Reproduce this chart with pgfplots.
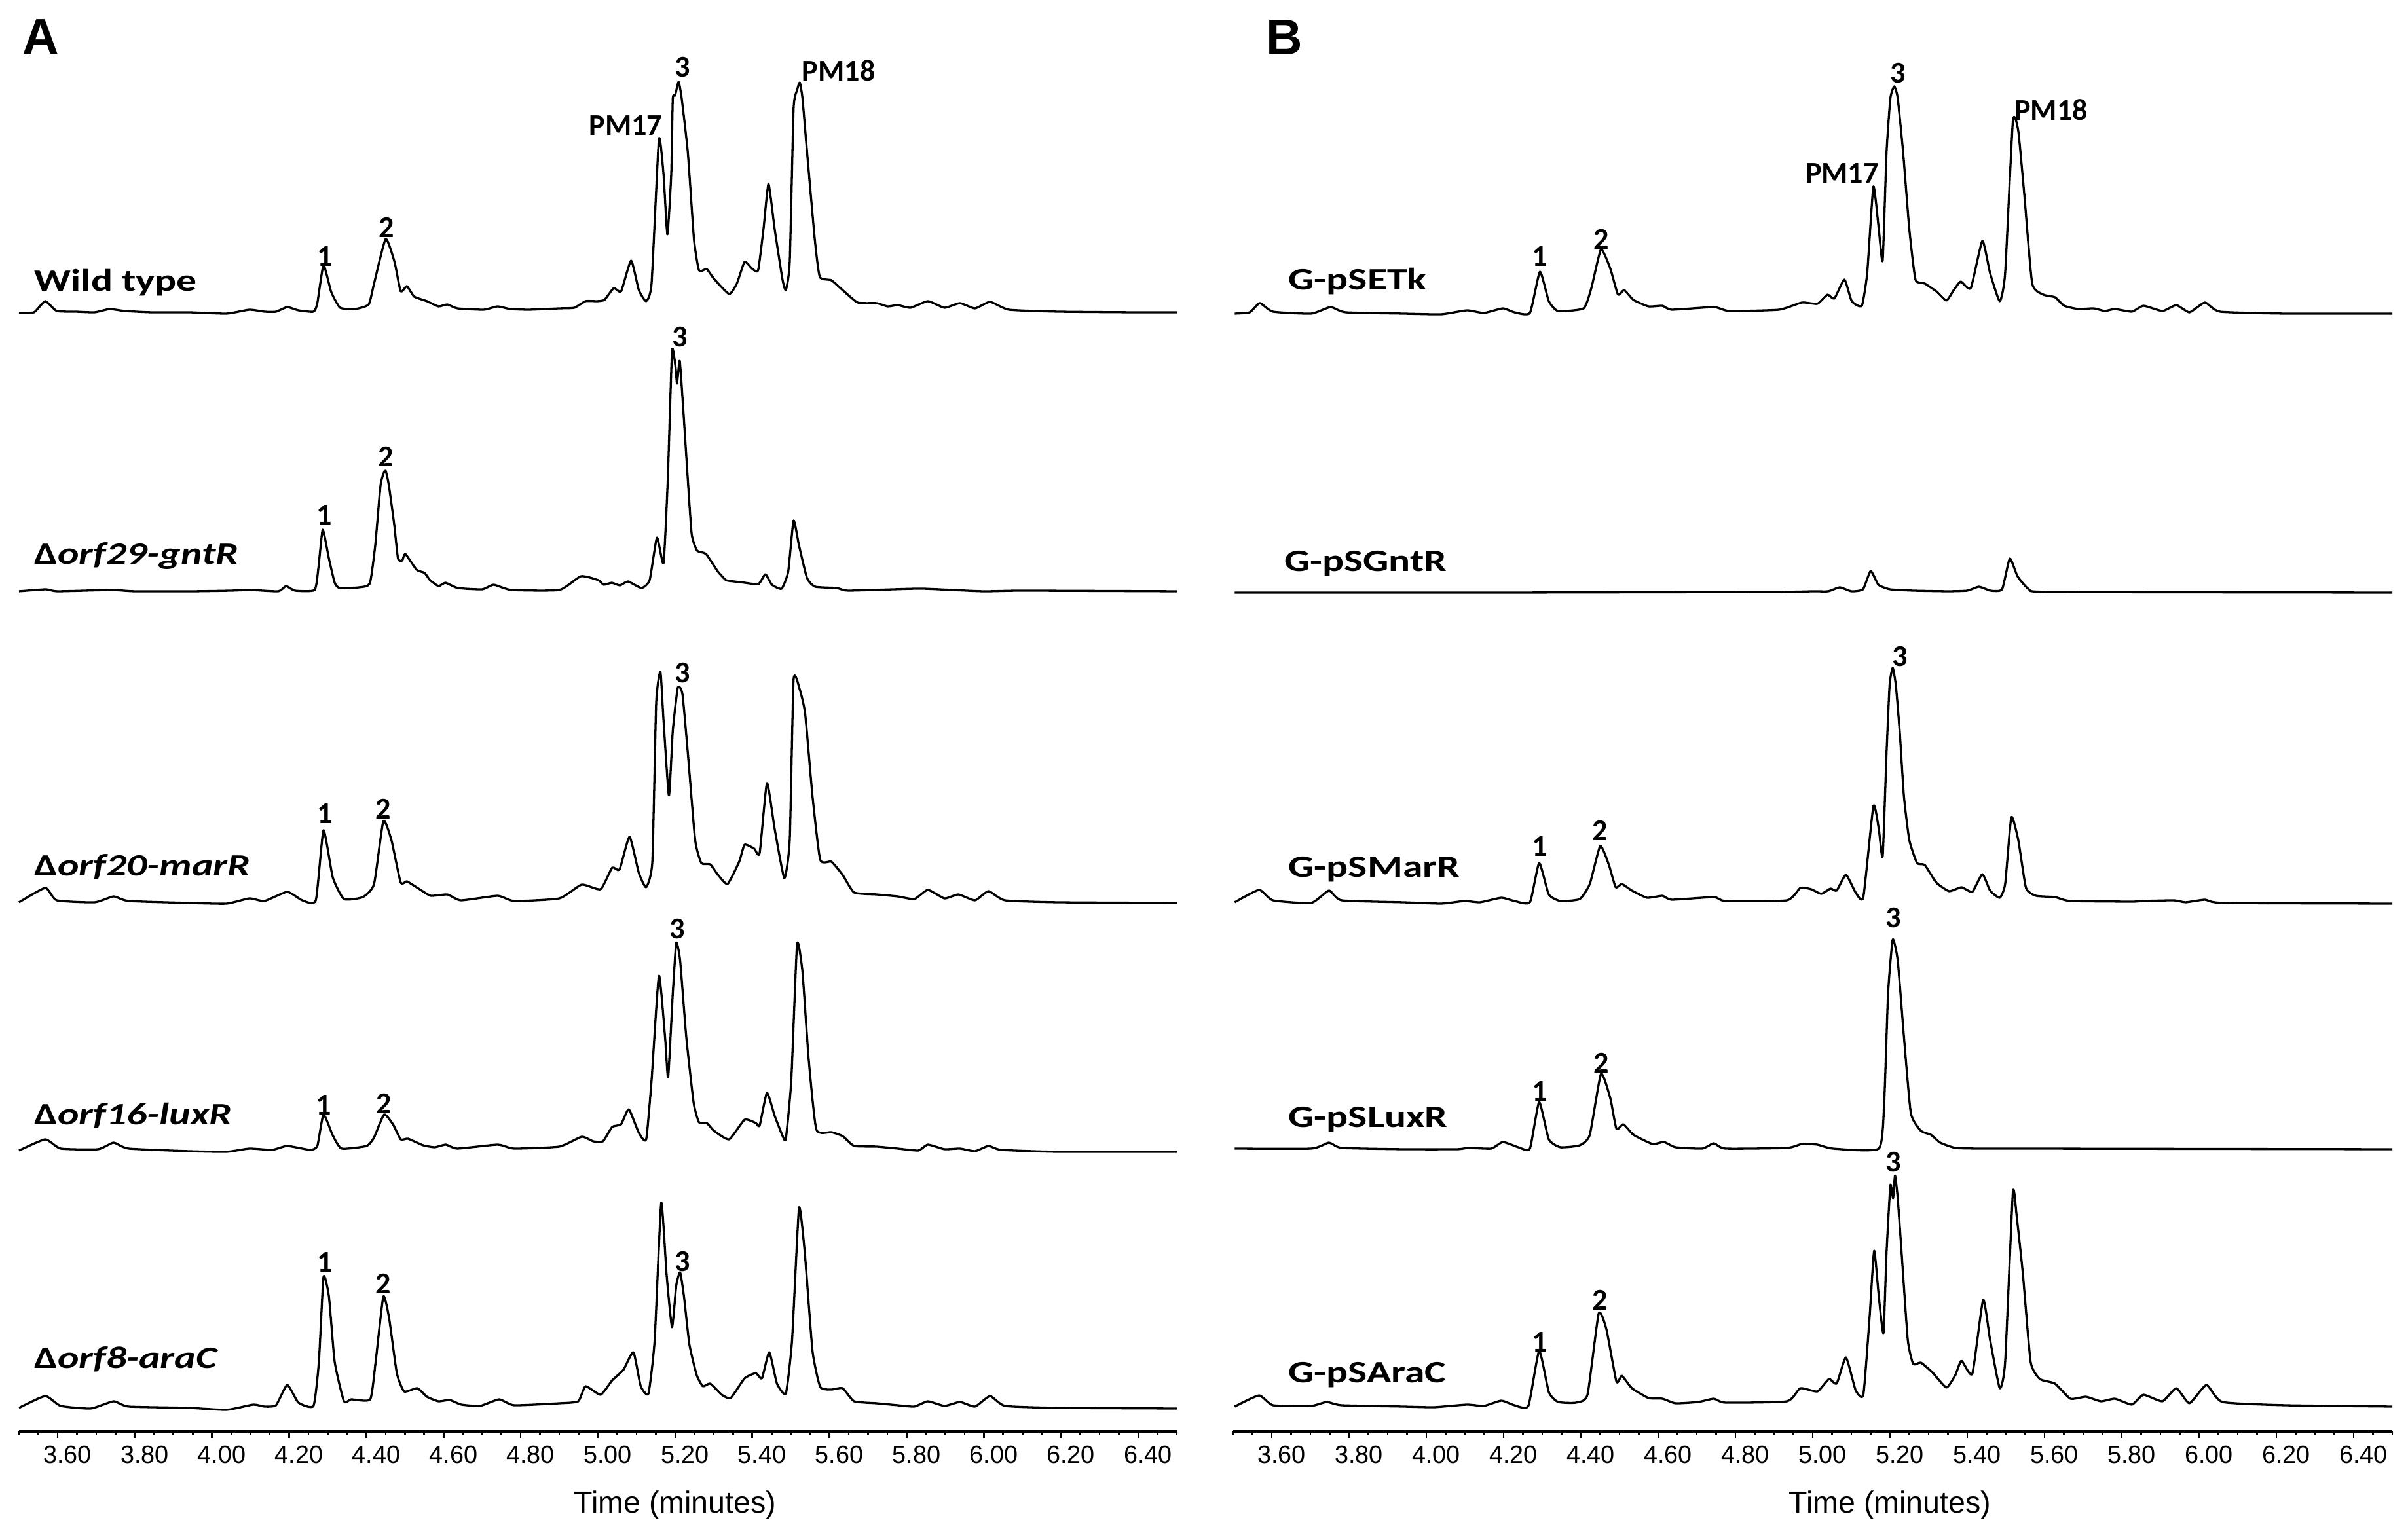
\documentclass[border=0pt]{standalone}
\usepackage{pgfplots}
\usepackage{pgfplotstable}
\pgfplotsset{compat=1.18}
\usepackage{fontspec}
\setmainfont{Liberation Sans}
\newfontfamily\labelfont{Carlito}

% 1 px of the reference = 0.008 cm
\newcommand{\trlabel}[1]{\scalebox{1.3}[1]{\labelfont\fontsize{10.8}{12}\selectfont\bfseries #1}}
\newcommand{\pk}[1]{{\labelfont\fontsize{10.5}{12}\selectfont\bfseries #1}}

\pgfplotsset{
  trace/.style={black, line width=0.75pt, line join=round, smooth, tension=0.3},
  chrom/.style={
    scale only axis, height=17.488cm,
    xmin=3.5, xmax=6.5, ymin=0, ymax=2186,
    axis x line*=bottom, axis y line=none,
    x axis line style={line width=1.1pt, -},
    xtick={3.6,3.8,4.0,4.2,4.4,4.6,4.8,5.0,5.2,5.4,5.6,5.8,6.0,6.2,6.4},
    minor xtick={3.50,3.55,...,6.50},
    xtick align=outside, xtick pos=bottom,
    major tick length=0.08cm, minor tick length=0.04cm,
    every tick/.style={black, line width=0.6pt},
    xticklabel style={font=\fontsize{8.6}{10}\selectfont, anchor=base, xshift=0.12cm, yshift=-0.31cm,
      /pgf/number format/fixed, /pgf/number format/fixed zerofill, /pgf/number format/precision=2,
      /pgf/number format/assume math mode=true},
    xlabel={Time (minutes)},
    xlabel style={font=\fontsize{10.6}{12}\selectfont, at={(axis description cs:0.5667,0)}, anchor=base, yshift=-1.0cm},
    clip=false,
  }
}

% panel A
\pgfplotstableread{
t i
3.500 0
3.539 1
3.568 18
3.598 3
3.647 2
3.696 1
3.735 6
3.774 3
3.843 1
3.940 1
4.038 -1
4.097 5
4.136 2
4.166 2
4.195 9
4.224 4
4.263 2
4.273 15
4.289 73
4.309 32
4.332 8
4.371 6
4.406 13
4.420 45
4.450 113
4.473 78
4.489 33
4.505 41
4.524 25
4.557 18
4.587 10
4.610 13
4.636 7
4.704 5
4.740 10
4.773 6
4.822 5
4.900 7
4.939 8
4.968 18
4.998 18
5.017 20
5.041 38
5.060 33
5.086 80
5.106 35
5.125 18
5.139 45
5.158 265
5.170 212
5.180 120
5.190 212
5.194 327
5.200 332
5.209 353
5.217 328
5.233 245
5.249 112
5.262 65
5.282 67
5.301 52
5.340 29
5.360 45
5.380 78
5.399 68
5.415 65
5.429 128
5.442 197
5.458 128
5.478 52
5.487 35
5.497 78
5.507 312
5.516 340
5.523 352
5.530 328
5.542 245
5.562 112
5.575 55
5.605 50
5.634 35
5.673 16
5.722 15
5.751 10
5.777 12
5.810 8
5.855 18
5.898 8
5.938 15
5.977 7
6.016 17
6.065 5
6.192 2
6.388 1
6.500 1
}\wt

\pgfplotstableread{
t i
3.500 0
3.570 3
3.600 0
3.740 2
3.800 0
3.950 0
4.050 1
4.101 2
4.172 0
4.192 8
4.215 1
4.266 2
4.276 37
4.287 94
4.303 50
4.318 13
4.331 5
4.381 6
4.409 12
4.423 70
4.437 163
4.449 185
4.458 163
4.472 103
4.482 50
4.493 47
4.501 57
4.530 33
4.551 28
4.565 17
4.587 8
4.605 13
4.637 5
4.700 3
4.730 10
4.776 2
4.900 2
4.956 23
5.001 17
5.015 10
5.036 13
5.057 9
5.078 15
5.113 5
5.134 17
5.153 82
5.170 43
5.181 170
5.192 367
5.201 343
5.205 317
5.212 352
5.222 270
5.233 170
5.243 87
5.257 62
5.280 57
5.311 30
5.332 17
5.353 15
5.381 13
5.416 11
5.434 26
5.451 10
5.476 4
5.493 30
5.507 108
5.521 70
5.542 20
5.563 7
5.619 5
5.647 1
5.767 3
5.842 4
5.997 0
6.100 1
6.500 0
}\gntr

\pgfplotstableread{
t i
3.500 0
3.568 22
3.598 3
3.696 0
3.745 9
3.784 2
3.940 -1
4.038 -2
4.097 6
4.136 2
4.195 16
4.234 3
4.269 3
4.289 110
4.313 38
4.342 5
4.391 8
4.420 28
4.444 124
4.465 95
4.489 30
4.505 32
4.538 20
4.567 10
4.610 12
4.645 3
4.740 10
4.783 2
4.900 6
4.958 27
5.007 20
5.037 53
5.056 50
5.082 100
5.106 45
5.125 23
5.141 62
5.151 305
5.162 352
5.170 278
5.184 163
5.194 262
5.207 328
5.219 318
5.233 228
5.252 95
5.268 60
5.291 58
5.311 42
5.336 28
5.366 62
5.380 88
5.405 82
5.419 75
5.438 182
5.458 112
5.483 37
5.497 95
5.507 340
5.523 325
5.537 288
5.556 162
5.576 65
5.605 62
5.634 42
5.664 15
5.722 12
5.777 9
5.820 5
5.855 19
5.898 6
5.934 12
5.977 3
6.012 17
6.055 3
6.192 0
6.500 -1
}\marr

\pgfplotstableread{
t i
3.500 0
3.568 17
3.608 3
3.705 2
3.745 12
3.784 3
3.940 -1
4.038 -2
4.097 3
4.156 1
4.195 7
4.254 1
4.273 7
4.289 55
4.313 23
4.336 3
4.401 7
4.420 20
4.446 55
4.469 40
4.489 17
4.508 18
4.547 8
4.577 5
4.606 9
4.636 3
4.740 9
4.783 3
4.900 6
4.958 21
4.988 14
5.013 14
5.037 36
5.060 40
5.080 63
5.106 27
5.125 17
5.139 107
5.158 267
5.174 173
5.182 112
5.194 240
5.203 317
5.213 290
5.229 173
5.248 73
5.262 43
5.282 42
5.301 30
5.340 17
5.380 47
5.409 42
5.419 38
5.438 88
5.458 53
5.478 23
5.487 18
5.501 107
5.516 315
5.530 273
5.546 140
5.566 32
5.605 28
5.634 22
5.664 7
5.722 6
5.777 3
5.830 0
5.855 9
5.898 2
5.938 3
5.977 -1
6.012 7
6.045 1
6.192 -2
6.500 -2
}\luxr

\pgfplotstableread{
t i
3.500 0
3.568 18
3.608 3
3.686 -1
3.745 10
3.784 2
3.940 0
4.038 -3
4.107 5
4.136 2
4.166 4
4.195 35
4.224 8
4.263 3
4.277 70
4.289 200
4.303 170
4.318 70
4.342 10
4.361 13
4.410 13
4.424 70
4.444 170
4.459 137
4.479 53
4.498 25
4.532 30
4.557 17
4.587 10
4.616 12
4.646 5
4.695 3
4.744 13
4.783 4
4.900 7
4.949 10
4.968 33
5.007 20
5.037 42
5.066 58
5.092 85
5.111 33
5.131 22
5.147 103
5.164 313
5.178 203
5.192 123
5.203 187
5.213 207
5.223 170
5.237 97
5.256 50
5.272 33
5.291 37
5.321 20
5.344 15
5.380 45
5.409 53
5.425 45
5.444 85
5.464 37
5.487 22
5.503 103
5.521 305
5.536 237
5.556 87
5.576 32
5.605 28
5.634 30
5.664 10
5.722 7
5.777 4
5.820 2
5.855 10
5.898 3
5.938 9
5.977 2
6.016 18
6.055 3
6.192 0
6.500 -1
}\arac

% panel B
\pgfplotstableread{
t i
3.504 0
3.543 2
3.569 16
3.603 3
3.702 0
3.752 10
3.791 2
3.940 0
4.039 -1
4.105 5
4.149 1
4.198 8
4.228 2
4.268 1
4.294 64
4.317 19
4.341 4
4.407 8
4.427 39
4.452 98
4.476 69
4.496 29
4.512 36
4.536 21
4.575 11
4.611 12
4.635 6
4.744 10
4.784 4
4.913 6
4.972 17
5.012 15
5.038 29
5.056 23
5.082 52
5.101 19
5.127 12
5.141 62
5.157 194
5.171 129
5.181 81
5.191 246
5.201 329
5.211 347
5.220 329
5.234 246
5.250 129
5.266 52
5.290 46
5.320 34
5.346 20
5.365 36
5.383 49
5.409 39
5.439 111
5.459 62
5.484 19
5.498 62
5.518 294
5.532 279
5.548 179
5.568 46
5.597 29
5.627 25
5.651 12
5.687 7
5.727 8
5.756 4
5.782 7
5.826 3
5.856 12
5.905 4
5.941 13
5.975 2
6.015 17
6.054 3
6.223 0
6.500 0
}\setk

\pgfplotstableread{
t i
3.504 0
4.200 0
4.900 1
5.000 2
5.040 2
5.070 8
5.100 2
5.130 5
5.150 33
5.170 12
5.200 5
5.260 3
5.350 2
5.400 3
5.430 9
5.460 3
5.490 5
5.510 52
5.530 25
5.560 5
5.620 1
6.500 0
}\bgntr

\pgfplotstableread{
t i
3.504 0
3.567 19
3.603 3
3.702 -1
3.748 18
3.781 3
3.940 0
4.039 -2
4.099 2
4.139 0
4.194 7
4.228 2
4.268 0
4.292 60
4.317 12
4.347 2
4.397 5
4.423 28
4.450 86
4.472 58
4.490 23
4.506 28
4.532 18
4.571 7
4.611 10
4.635 4
4.744 8
4.774 2
4.933 3
4.968 22
4.996 20
5.022 13
5.046 21
5.062 18
5.086 42
5.111 15
5.131 8
5.157 147
5.171 112
5.181 70
5.191 228
5.199 332
5.207 358
5.215 332
5.225 262
5.236 162
5.250 95
5.270 60
5.290 57
5.320 30
5.353 17
5.385 23
5.413 16
5.439 43
5.459 18
5.484 7
5.498 28
5.514 130
5.532 95
5.552 22
5.578 10
5.627 8
5.667 2
5.826 1
5.856 2
5.935 3
5.965 0
6.015 4
6.064 -1
6.500 -2
}\bmarr

\pgfplotstableread{
t i
3.504 0
3.702 0
3.748 9
3.781 1
3.940 -1
4.079 -1
4.109 1
4.168 0
4.198 10
4.238 2
4.268 0
4.292 71
4.317 14
4.347 2
4.397 5
4.423 21
4.452 114
4.476 77
4.492 30
4.510 37
4.536 21
4.585 7
4.615 10
4.645 2
4.714 0
4.744 8
4.774 0
4.933 1
4.972 7
5.012 6
5.052 0
5.171 0
5.185 71
5.195 237
5.207 319
5.220 287
5.236 171
5.254 54
5.280 27
5.306 21
5.330 9
5.369 1
5.429 0
5.528 0
6.500 -1
}\bluxr

\pgfplotstableread{
t i
3.504 0
3.567 17
3.603 2
3.702 1
3.742 7
3.781 2
3.940 0
4.020 -1
4.105 3
4.149 1
4.194 9
4.228 2
4.264 1
4.292 85
4.317 22
4.341 7
4.387 6
4.417 18
4.446 142
4.466 118
4.492 38
4.506 47
4.532 28
4.575 13
4.611 12
4.645 5
4.704 7
4.744 12
4.774 6
4.933 8
4.968 28
5.012 23
5.042 42
5.062 35
5.086 75
5.111 25
5.131 18
5.147 135
5.159 238
5.171 168
5.183 112
5.191 235
5.201 338
5.208 318
5.213 353
5.220 318
5.230 235
5.246 102
5.260 65
5.280 67
5.310 52
5.346 29
5.369 48
5.385 70
5.413 50
5.441 163
5.459 102
5.484 28
5.498 68
5.518 327
5.528 290
5.544 202
5.564 68
5.588 42
5.627 35
5.667 12
5.707 15
5.746 8
5.782 12
5.826 3
5.856 18
5.905 8
5.941 28
5.975 5
6.019 33
6.060 7
6.223 2
6.500 0
}\barac

\begin{document}
\begin{tikzpicture}
\useasboundingbox (0,0) rectangle (29.416cm,18.68cm);

\begin{axis}[chrom, width=14.144cm, at={(0.232cm,1.192cm)}, anchor=south west]
  \addplot[trace] table[x=t, y expr=\thisrow{i}+1708] {\wt};
  \addplot[trace] table[x=t, y expr=\thisrow{i}+1283] {\gntr};
  \addplot[trace] table[x=t, y expr=\thisrow{i}+808] {\marr};
  \addplot[trace] table[x=t, y expr=\thisrow{i}+429] {\luxr};
  \addplot[trace] table[x=t, y expr=\thisrow{i}+36] {\arac};

  \node[inner sep=0] at (axis cs:3.556,2130) {\fontsize{17.5}{20}\selectfont\bfseries A};

  \node[anchor=base west, inner sep=0] at (axis cs:3.539,1741) {\trlabel{Wild type}};
  \node[anchor=base west, inner sep=0] at (axis cs:3.539,1324) {\trlabel{Δ\textit{orf29-gntR}}};
  \node[anchor=base west, inner sep=0] at (axis cs:3.539,848) {\trlabel{Δ\textit{orf20-marR}}};
  \node[anchor=base west, inner sep=0] at (axis cs:3.539,468) {\trlabel{Δ\textit{orf16-luxR}}};
  \node[anchor=base west, inner sep=0] at (axis cs:3.539,96) {\trlabel{Δ\textit{orf8-araC}}};

  \node[inner sep=0] at (axis cs:4.293,1794) {\pk{1}};
  \node[inner sep=0] at (axis cs:4.453,1839) {\pk{2}};
  \node[inner sep=0] at (axis cs:5.072,1994) {\pk{PM17}};
  \node[inner sep=0] at (axis cs:5.219,2083) {\pk{3}};
  \node[inner sep=0] at (axis cs:5.624,2078) {\pk{PM18}};

  \node[inner sep=0] at (axis cs:4.291,1399) {\pk{1}};
  \node[inner sep=0] at (axis cs:4.450,1489) {\pk{2}};
  \node[inner sep=0] at (axis cs:5.212,1671) {\pk{3}};

  \node[inner sep=0] at (axis cs:4.293,943) {\pk{1}};
  \node[inner sep=0] at (axis cs:4.443,951) {\pk{2}};
  \node[inner sep=0] at (axis cs:5.219,1158) {\pk{3}};

  \node[inner sep=0] at (axis cs:4.289,498) {\pk{1}};
  \node[inner sep=0] at (axis cs:4.446,501) {\pk{2}};
  \node[inner sep=0] at (axis cs:5.205,767) {\pk{3}};

  \node[inner sep=0] at (axis cs:4.293,258) {\pk{1}};
  \node[inner sep=0] at (axis cs:4.443,226) {\pk{2}};
  \node[inner sep=0] at (axis cs:5.219,259) {\pk{3}};
\end{axis}

\begin{axis}[chrom, width=14.16cm, at={(15.064cm,1.192cm)}, anchor=south west]
  \addplot[trace] table[x=t, y expr=\thisrow{i}+1707] {\setk};
  \addplot[trace] table[x=t, y expr=\thisrow{i}+1281] {\bgntr};
  \addplot[trace] table[x=t, y expr=\thisrow{i}+808] {\bmarr};
  \addplot[trace] table[x=t, y expr=\thisrow{i}+432] {\bluxr};
  \addplot[trace] table[x=t, y expr=\thisrow{i}+38] {\barac};

  \node[inner sep=0] at (axis cs:3.632,2129) {\fontsize{17.5}{20}\selectfont\bfseries B};

  \node[anchor=base west, inner sep=0] at (axis cs:3.642,1743) {\trlabel{G-pSETk}};
  \node[anchor=base west, inner sep=0] at (axis cs:3.631,1313) {\trlabel{G-pSGntR}};
  \node[anchor=base west, inner sep=0] at (axis cs:3.642,846) {\trlabel{G-pSMarR}};
  \node[anchor=base west, inner sep=0] at (axis cs:3.642,464) {\trlabel{G-pSLuxR}};
  \node[anchor=base west, inner sep=0] at (axis cs:3.642,74) {\trlabel{G-pSAraC}};

  \node[inner sep=0] at (axis cs:4.294,1794) {\pk{1}};
  \node[inner sep=0] at (axis cs:4.452,1821) {\pk{2}};
  \node[inner sep=0] at (axis cs:5.076,1921) {\pk{PM17}};
  \node[inner sep=0] at (axis cs:5.220,2074) {\pk{3}};
  \node[inner sep=0] at (axis cs:5.617,2018) {\pk{PM18}};

  \node[inner sep=0] at (axis cs:4.294,893) {\pk{1}};
  \node[inner sep=0] at (axis cs:4.450,918) {\pk{2}};
  \node[inner sep=0] at (axis cs:5.226,1183) {\pk{3}};

  \node[inner sep=0] at (axis cs:4.294,519) {\pk{1}};
  \node[inner sep=0] at (axis cs:4.452,563) {\pk{2}};
  \node[inner sep=0] at (axis cs:5.208,784) {\pk{3}};

  \node[inner sep=0] at (axis cs:4.294,136) {\pk{1}};
  \node[inner sep=0] at (axis cs:4.450,201) {\pk{2}};
  \node[inner sep=0] at (axis cs:5.208,411) {\pk{3}};
\end{axis}
\end{tikzpicture}
\end{document}
